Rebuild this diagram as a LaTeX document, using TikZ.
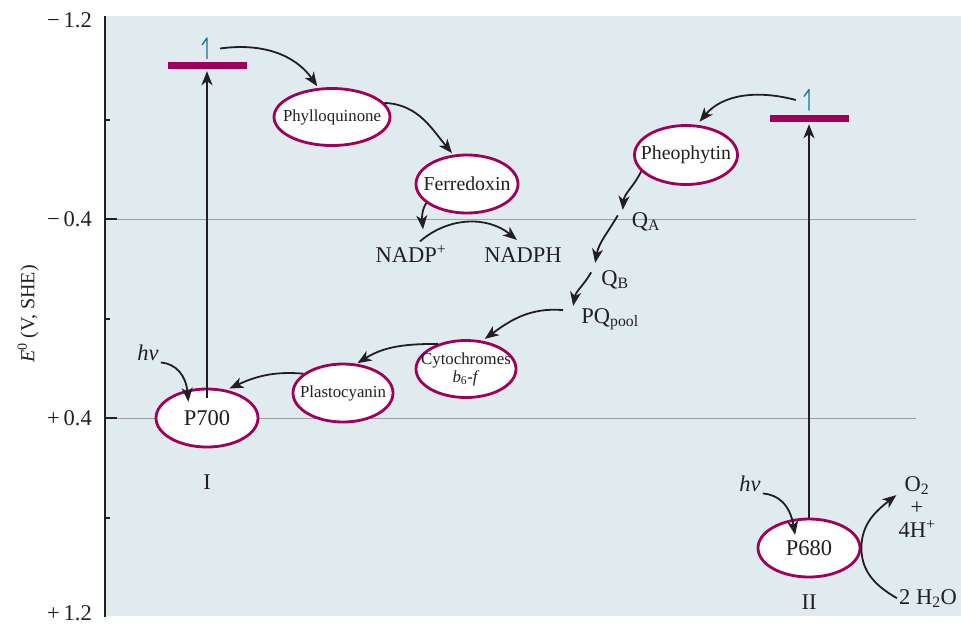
\documentclass[tikz,border=0pt]{standalone}
\usepackage{fontspec}
\setmainfont{Liberation Serif}
\usepackage{tikz}
\usetikzlibrary{arrows.meta,positioning,shapes.geometric}

\definecolor{panel}{RGB}{224,235,240}
\definecolor{wine}{RGB}{160,0,90}
\definecolor{ink}{RGB}{35,31,32}
\definecolor{rule}{RGB}{160,160,160}
\definecolor{spinblue}{RGB}{25,110,150}

\begin{document}
\begin{tikzpicture}[
  x=1pt, y=1pt,
  bigtext/.style={font=\fontsize{22.5}{23}\selectfont},
  midtext/.style={font=\fontsize{19.8}{21}\selectfont},
  smalltext/.style={font=\fontsize{16.8}{18}\selectfont},
  carrier/.style={ellipse, draw=wine, line width=2.8pt, fill=white, text=ink,
    inner sep=-16pt, minimum width=102pt, minimum height=58pt},
  term/.style={bigtext, text=ink, inner sep=2pt},
  level/.style={fill=wine, minimum width=79pt, minimum height=7pt, inner sep=0pt},
  spin/.style={minimum width=26pt, minimum height=26pt, inner sep=0pt,
    path picture={\draw[spinblue, line width=1.3pt, line join=round]
      ([yshift=-10.5pt]path picture bounding box.center) -- ++(0,21pt) -- ++(-5pt,-7pt);}},
  arrow/.style={-{Stealth[length=14pt,width=11pt,inset=4pt]}, line width=1.8pt, draw=ink},
  rise/.style={-{Stealth[length=14pt,width=11pt,inset=4pt]}, line width=1.6pt, draw=ink}
]
\useasboundingbox (0,0) rectangle (961,-625);

% panel and potential scale
\fill[panel] (105,-16) rectangle (961,-616);
\draw[rule, line width=1pt] (117,-219) -- (916,-219);
\draw[rule, line width=1pt] (117,-418) -- (916,-418);
\draw[ink, line width=2pt] (105,-16) -- (105,-617);
\draw[ink, line width=2pt] (105,-219) -- (117,-219) (105,-418) -- (117,-418);
\draw[ink, line width=2pt] (105,-119.5) -- (110,-119.5) (105,-318.5) -- (110,-318.5) (105,-517.5) -- (110,-517.5);

\node[term, anchor=east, inner sep=0pt] (vtop) at (92,-20) {−\,1.2};
\node[term, anchor=east, inner sep=0pt] (vneg) at (92,-219) {−\,0.4};
\node[term, anchor=east, inner sep=0pt] (vpos) at (92,-418) {+\,0.4};
\node[term, anchor=east, inner sep=0pt] (vbot) at (92,-613) {+\,1.2};
\node[term, font=\fontsize{20}{21}\selectfont, rotate=90] (axislabel) at (28,-314) {\textit{E}\textsuperscript{0} (V, SHE)};

% excited levels
\node[level] (lvlI) at (207,-65.5) {};
\node[level] (lvlII) at (809,-118.5) {};
\node[spin] (spinI) at (207,-48.5) {};
\node[spin] (spinII) at (809,-100) {};

% carriers
\node[carrier, smalltext, minimum width=116pt, minimum height=57pt] (phyllo) at (332,-117) {Phylloquinone};
\node[carrier, midtext] (ferre) at (467,-184) {Ferredoxin};
\node[carrier, midtext, minimum width=103pt, minimum height=59pt] (pheo) at (686,-155) {Pheophytin};
\node[carrier, bigtext] (p700) at (207,-418) {P700};
\node[carrier, smalltext, minimum width=100pt] (plasto) at (343,-393) {Plastocyanin};
\node[carrier, smalltext, minimum width=100pt, minimum height=57pt, align=center] (cyto) at (466,-369) {Cytochromes\\\textit{b}\textsubscript{6}-\textit{f}};
\node[carrier, bigtext] (p680) at (809,-548) {P680};

% labels
\node[term, anchor=base] (nadp) at (411,-262) {NADP\textsuperscript{+}};
\node[term, anchor=base] (nadph) at (523,-262) {NADPH};
\node[term, anchor=base] (qa) at (646,-227) {Q\textsubscript{A}};
\node[term, anchor=base] (qb) at (615,-285) {Q\textsubscript{B}};
\node[term, anchor=base] (pq) at (610,-323) {PQ\textsubscript{pool}};
\node[term, anchor=base] (hvI) at (148,-360) {\textit{hν}};
\node[term, anchor=base] (hvII) at (750,-491) {\textit{hν}};
\node[term, below=24pt of p700] (sysI) {I};
\node[term, below=14pt of p680] (sysII) {II};
\node[term, align=center] (o2) at (917,-507) {O\textsubscript{2}\\+\\4H\textsuperscript{+}};
\node[term, anchor=base] (h2o) at (928,-604) {2 H\textsubscript{2}O};

% photosystem I side
\draw[rise, shorten <=-10pt, shorten >=2pt] (p700.north) -- (lvlI.south);
\draw[arrow, shorten >=2pt] (spinI.east) to[out=8, in=125] (phyllo.115);
\draw[arrow, shorten >=2pt] (phyllo.15) to[out=-2, in=130] (ferre.115);
\draw[arrow] (ferre.205) to[out=240, in=95] ([xshift=12pt, yshift=14pt]nadp.north);
\draw[arrow] ([xshift=9pt, yshift=2pt]nadp.north) to[bend left=40] ([xshift=-6pt, yshift=5pt]nadph.north);
\draw[arrow, shorten >=-12pt] (hvI.south east) to[out=-5, in=95] (p700.125);

% photosystem II side
\draw[rise, shorten >=2pt] (p680.north) -- (lvlII.south);
\draw[arrow, shorten >=4pt] (spinII.west) to[out=165, in=50] (pheo.70);
\draw[arrow] (pheo.200) to[out=245, in=85] ([xshift=-7pt]qa.north west);
\draw[arrow] ([xshift=-12pt, yshift=6pt]qa.west) to[out=240, in=80] ([xshift=-4pt, yshift=5pt]qb.north west);
\draw[arrow] ([xshift=-8pt, yshift=7pt]qb.west) to[out=240, in=80] ([xshift=-6pt]pq.north west);
\draw[arrow, shorten >=3pt] ([xshift=-16pt, yshift=9pt]pq.west) to[out=175, in=36] (cyto.60);
\draw[arrow, shorten >=1pt] (cyto.138) to[out=180, in=32] (plasto.65);
\draw[arrow, shorten >=3pt] (plasto.154) to[out=175, in=25] (p700.55);
\draw[arrow, shorten >=-16pt] (hvII.south east) to[out=-5, in=100] (p680.120);
\draw[arrow] (h2o.west) to[out=150, in=-90] (p680.east) to[out=90, in=218] (o2.150);
\end{tikzpicture}
\end{document}
